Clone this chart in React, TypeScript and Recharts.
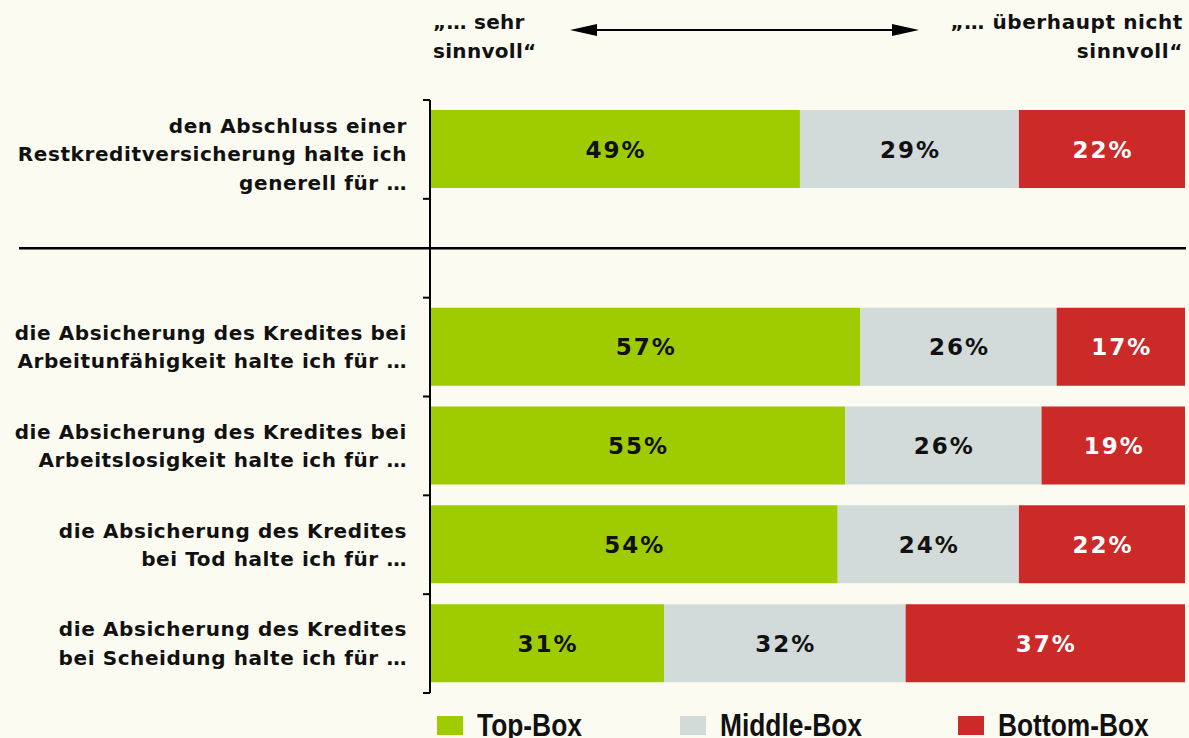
import React from 'react';
import { BarChart, Bar, XAxis, YAxis, LabelList, Legend } from 'recharts';

// ---------- data ----------
const categories = ['restkredit', 'separator', 'arbeitsunfaehigkeit', 'arbeitslosigkeit', 'tod', 'scheidung'];
const categoryLines: string[][] = [
  ['den Abschluss einer', 'Restkreditversicherung halte ich', 'generell für …'],
  [],
  ['die Absicherung des Kredites bei', 'Arbeitunfähigkeit halte ich für …'],
  ['die Absicherung des Kredites bei', 'Arbeitslosigkeit halte ich für …'],
  ['die Absicherung des Kredites', 'bei Tod halte ich für  …'],
  ['die Absicherung des Kredites', 'bei Scheidung halte ich für …'],
];
const topBox = [49, null, 57, 55, 54, 31];
const middleBox = [29, null, 26, 26, 24, 32];
const bottomBox = [22, null, 17, 19, 22, 37];
const seriesNames = ['Top-Box', 'Middle-Box', 'Bottom-Box'];
const seriesKeys = ['top', 'middle', 'bottom'];
const scaleLeftLabel = ['„… sehr', 'sinnvoll“'];
const scaleRightLabel = ['„… überhaupt nicht', 'sinnvoll“'];

// ---------- style ----------
const W = 1189;
const H = 738;
const MARGIN = { top: 100, right: 4, bottom: 45, left: 0 };
const BAND = (H - MARGIN.top - MARGIN.bottom) / categories.length;
const BG = '#FCFBF2';
const COLORS = ['#9ECC00', '#D3DADA', '#CC2929'];
const LABEL_COLORS = ['#111', '#111', '#FFFFFF'];
const TEXT = '#111';
const LABEL_FONT = "'DejaVu Sans', sans-serif";
const VALUE_FONT = "'DejaVu Sans', sans-serif";
const LEGEND_FONT = "'Liberation Sans', Arial, sans-serif";
const LEGEND_OFFSETS = [0, 243, 521];

const data = categories.map((c, i) => ({
  category: c,
  top: topBox[i],
  middle: middleBox[i],
  bottom: bottomBox[i],
}));

const CategoryTick = (props: any) => {
  const { x, y, payload, index } = props;
  const idx = categories.indexOf(payload.value);
  const lines = categoryLines[idx] || [];
  const axisX = x + 8;
  const marks = (
    <g stroke="#000" strokeWidth={2}>
      <line x1={axisX - 7} x2={axisX} y1={y - BAND / 2} y2={y - BAND / 2} />
      {index === categories.length - 1 ? (
        <line x1={axisX - 7} x2={axisX} y1={y + BAND / 2} y2={y + BAND / 2} />
      ) : null}
    </g>
  );
  if (lines.length === 0) {
    return (
      <g>
        {marks}
        <line x1={19} x2={W - 3} y1={y} y2={y} stroke="#000" strokeWidth={2.5} />
      </g>
    );
  }
  const lh = 28.5;
  const nudge = lines.length > 2 ? 5 : 0;
  const startY = y - ((lines.length - 1) * lh) / 2 + 7 + nudge;
  return (
    <g>
      {marks}
      <text textAnchor="end" fontFamily={LABEL_FONT} fontSize={20} fontWeight={700} fill={TEXT} letterSpacing={0.6}>
        {lines.map((l, i) => (
          <tspan key={i} x={axisX - 23} y={startY + i * lh}>
            {l}
          </tspan>
        ))}
      </text>
    </g>
  );
};

const makeValueLabel = (color: string) => (props: any) => {
  const { x, y, width, height, value } = props;
  if (value == null) return null;
  return (
    <text
      x={Number(x) + Number(width) / 2 + 1}
      y={Number(y) + Number(height) / 2 + 8.5}
      textAnchor="middle"
      fontFamily={VALUE_FONT}
      fontSize={23}
      fontWeight={700}
      letterSpacing={2}
      fill={color}
    >
      {`${value}%`}
    </text>
  );
};

const renderLegend = () => (
  <div style={{ position: 'relative', width: 740, height: 40 }}>
    {seriesNames.map((n, i) => (
      <div key={n} style={{ position: 'absolute', left: LEGEND_OFFSETS[i], top: 0, display: 'flex', alignItems: 'flex-start' }}>
        <span
          style={{
            display: 'inline-block',
            width: 26,
            height: 19,
            marginTop: 6,
            marginRight: 14,
            background: COLORS[i],
          }}
        />
        <span
          style={{
            display: 'inline-block',
            fontFamily: LEGEND_FONT,
            fontWeight: 700,
            fontSize: 31,
            lineHeight: '31px',
            color: TEXT,
            whiteSpace: 'nowrap',
            transform: 'scaleX(0.85)',
            transformOrigin: 'left center',
          }}
        >
          {n}
        </span>
      </div>
    ))}
  </div>
);

export default function App() {
  return (
    <div style={{ position: 'absolute', left: 0, top: 0, width: W, height: H, background: BG, overflow: 'hidden' }}>
      <BarChart width={W} height={H} data={data} layout="vertical" margin={MARGIN} barSize={78}>
        <XAxis type="number" domain={[0, 100]} hide />
        <YAxis
          type="category"
          dataKey="category"
          width={430}
          interval={0}
          axisLine={{ stroke: '#000', strokeWidth: 2 }}
          tickLine={false}
          tick={<CategoryTick />}
        />
        {seriesKeys.map((k, i) => (
          <Bar key={k} dataKey={k} name={seriesNames[i]} stackId="s" fill={COLORS[i]} isAnimationActive={false}>
            <LabelList dataKey={k} content={makeValueLabel(LABEL_COLORS[i])} />
          </Bar>
        ))}
        <Legend
          layout="horizontal"
          verticalAlign="middle"
          align="center"
          content={renderLegend}
          wrapperStyle={{ left: 437, top: 710, right: 'auto', bottom: 'auto', width: 740 }}
        />
      </BarChart>
      <svg width={W} height={100} style={{ position: 'absolute', left: 0, top: 0, pointerEvents: 'none' }}>
        <g fontFamily={LABEL_FONT} fontSize={20} fontWeight={700} fill={TEXT} letterSpacing={0.3}>
          <text x={433} y={29}>{scaleLeftLabel[0]}</text>
          <text x={433} y={58}>{scaleLeftLabel[1]}</text>
          <text x={1183} y={29} textAnchor="end" letterSpacing={0.6}>{scaleRightLabel[0]}</text>
          <text x={1183} y={58} textAnchor="end" letterSpacing={0.6}>{scaleRightLabel[1]}</text>
        </g>
        <line x1={590} x2={900} y1={30} y2={30} stroke="#000" strokeWidth={2} />
        <polygon points="570,30 597,24 597,36" fill="#000" />
        <polygon points="919,30 892,24 892,36" fill="#000" />
      </svg>
    </div>
  );
}
